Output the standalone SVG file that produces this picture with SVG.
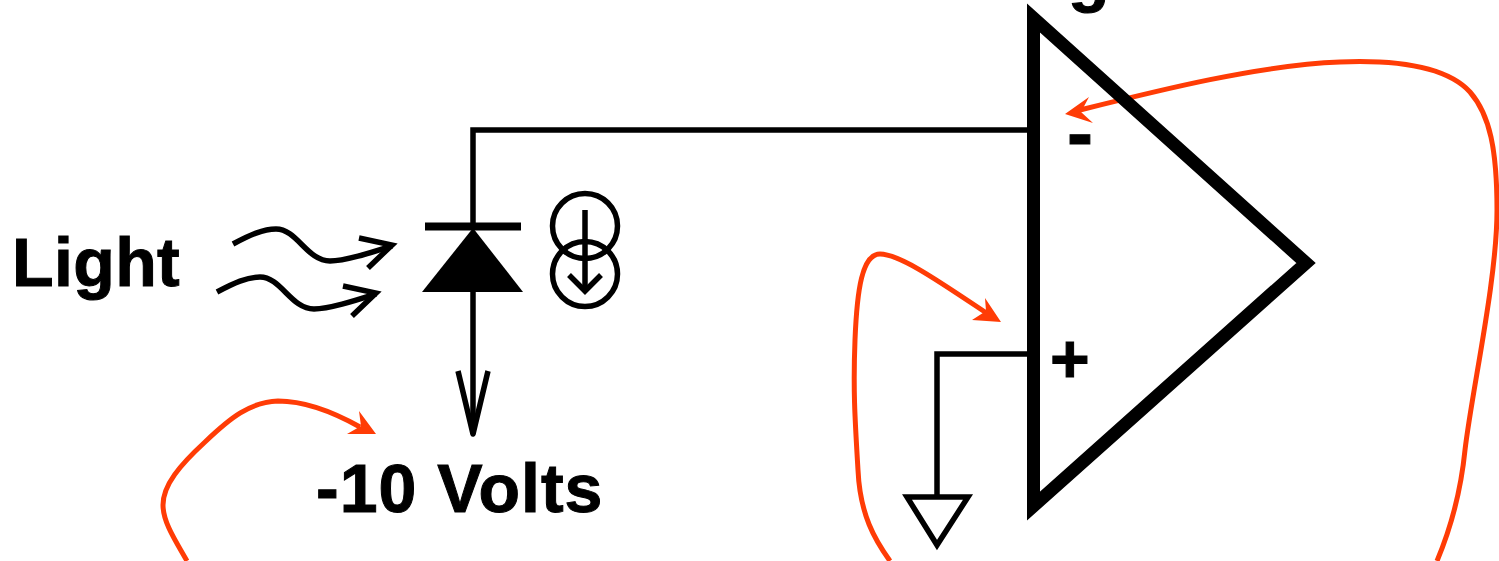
<svg xmlns="http://www.w3.org/2000/svg" width="1499" height="561" viewBox="0 0 1499 561">
<style>
text{font-family:"Liberation Sans",Arial,sans-serif;font-weight:700;font-size:68px;fill:#000;stroke:#000;stroke-width:1}
.w{fill:none;stroke:#000;stroke-width:5.500}
.r{fill:none;stroke:#ff3c06;stroke-width:5}
.h{fill:#ff3c06}
</style>
<rect width="1499" height="561" fill="#fff"/>
<g id="connectors">
<path class="w" d="M1030 130H473V224"/>
<path class="w" d="M1030 354H937V497"/>
<path class="w" d="M473 290V434"/>
<path class="w" d="M458 371L473 434L488 371" stroke-linejoin="round"/>
<path class="w" d="M233 244C250 235 263 229 276 229C297 229 307 261 330 261C345 261 370 253 392 246"/>
<path class="w" d="M359 238L392 245L368 268"/>
<path class="w" d="M217 292C234 283 247 277 260 277C281 277 291 309 314 309C329 309 354 301 376 294"/>
<path class="w" d="M343 286L376 293L352 316"/>
</g>
<g id="red-arrows">
<path class="r" d="M187 561C175 540 163 522 163 505C163 485 180 465 205 442C230 418 250 402 278 401C305 401 335 413 360 427"/>
<path class="h" d="M376 434L347 434L361 426L359 411Z"/>
<path class="r" d="M890 561C875 540 860 515 858 470C855 420 853 390 855 340C857 290 862 254 880 254C900 254 940 282 988 314"/>
<path class="h" d="M1001 322L972 320L986 311L985 298Z"/>
<path class="r" d="M1437 561C1450 530 1461 490 1465 450C1472 390 1497 280 1497 210C1497 150 1490 115 1470 92C1445 65 1390 60 1340 62C1260 65 1160 90 1080 110"/>
<path class="h" d="M1065 114L1089 97L1081 112L1093 123Z"/>
</g>
<g id="photodiode">
<rect x="425" y="222.500" width="96" height="8"/>
<path d="M473 228L523 292H422Z"/>
</g>
<g id="current-source">
<circle cx="585" cy="226" r="32.500" fill="none" stroke="#000" stroke-width="5.500"/>
<circle cx="585" cy="274" r="32.500" fill="none" stroke="#000" stroke-width="5.500"/>
<path class="w" d="M585 210V290"/>
<path class="w" d="M569 275L585 291L601 275"/>
</g>
<g id="ground">
<path class="w" d="M907 497H968L937 545Z"/>
</g>
<g id="opamp">
<path d="M1033.500 18L1306 263L1033.500 506Z" fill="none" stroke="#000" stroke-width="13"/>
<text x="1068" y="-1">g</text>
<text x="1067" y="160" style="font-size:78px">-</text>
<text x="1050" y="382">+</text>
</g>
<g id="labels">
<text x="12" y="286" letter-spacing="0.400">Light</text>
<text x="316" y="512" letter-spacing="1">-10 Volts</text>
</g>
</svg>
